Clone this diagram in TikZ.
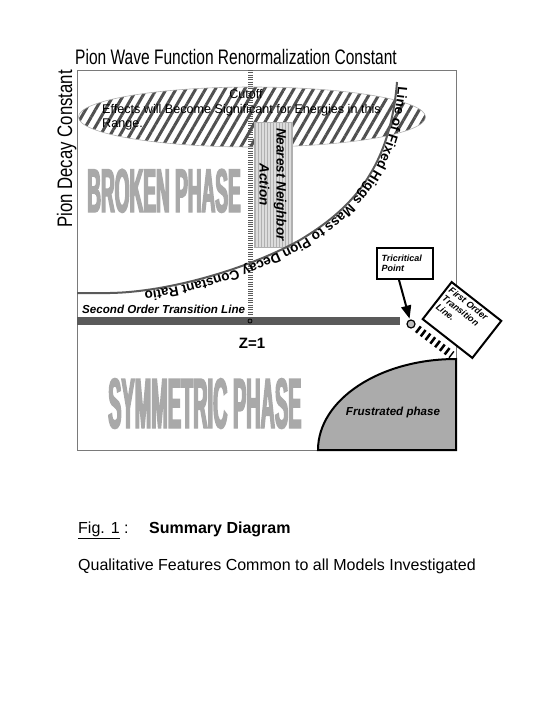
\documentclass[tikz,border=0pt]{standalone}
\usepackage{fontspec}
\setmainfont{Liberation Sans}
\newfontfamily\narrowfont[FakeStretch=0.74]{Liberation Sans}
\newfontfamily\brokenfont[FakeStretch=0.31]{Liberation Sans}
\newfontfamily\symmfont[FakeStretch=0.28]{Liberation Sans}
\newcommand\heavytext[1]{\special{pdf:literal direct 2 Tr 1.4 w 0.663 G}#1\special{pdf:literal direct 0 Tr 0 G}}
\usetikzlibrary{arrows.meta,shapes.geometric,patterns.meta,decorations.text}
\definecolor{cFrame}{HTML}{7A7A7A}
\definecolor{cPhase}{HTML}{A9A9A9}
\definecolor{cBar}{HTML}{5A5A5A}
\definecolor{cHatch}{HTML}{505050}
\definecolor{cLight}{HTML}{DCDCDC}
\definecolor{cEdge}{HTML}{B0B0B0}
\definecolor{cFrust}{HTML}{ABABAB}
\definecolor{cDot}{HTML}{BDBDBD}
\tikzset{
  axistitle/.style={
    font=\narrowfont\fontsize{21}{24}\selectfont, inner sep=0pt,
  },
  phaselabel/.style={
    text=cPhase, inner sep=0pt, anchor=base west,
  },
  plain/.style={
    font=\fontsize{12.6}{14}\selectfont, inner sep=0pt,
  },
  tag/.style={
    font=\bfseries\itshape\fontsize{11.6}{13}\selectfont, inner sep=0pt,
  },
  smalltag/.style={
    font=\bfseries\itshape\fontsize{9}{10.5}\selectfont, align=left,
  },
  callout/.style={
    draw, line width=2pt, fill=white,
  },
  caption/.style={
    font=\fontsize{16}{19}\selectfont, inner sep=0pt, anchor=base west,
  },
}

\begin{document}
\begin{tikzpicture}[x=1pt, y=-1pt, >=Stealth]
\useasboundingbox (0,0) rectangle (554,717);

% ═══════════════════════════════════════════════════════════════
%  AXES
% ═══════════════════════════════════════════════════════════════
\node[axistitle, anchor=base west] (xtitle) at (75,65)
  {Pion Wave Function Renormalization Constant};
\node[axistitle, anchor=base west, rotate=90, xscale=1.08] (ytitle) at (72,228)
  {Pion Decay Constant};
\draw[cFrame, line width=1pt] (77,70) rectangle (456,450);

% ── Z=1 line ──
\draw[cBar, line width=5pt, dash pattern=on 1pt off 1.3pt] (250,70) -- (250,316);

% ═══════════════════════════════════════════════════════════════
%  CUTOFF REGION
% ═══════════════════════════════════════════════════════════════
\node[ellipse, draw=cEdge, line width=0.6pt,
      minimum width=347pt, minimum height=60pt,
      pattern={Lines[angle=60, distance=8.5pt, line width=3pt]},
      pattern color=cHatch] (cutoff) at (252,117) {};
\node[plain, anchor=base] (cutofftxt) at (246,98) {Cutoff};
\node[plain, anchor=base west] (effects) at (102,113)
  {Effects will Become Significant for Energies in this};
\node[plain, anchor=base west] (range) at (102,127) {Range.};

% ── nearest neighbour action ──
\node[draw=cEdge, fill=cLight, line width=0.6pt,
      minimum width=38pt, minimum height=125pt, inner sep=0pt,
      postaction={pattern={Lines[angle=90, distance=3pt, line width=0.5pt]},
                  pattern color=cEdge}] (nnbox) at (273,184.5) {};
\node[rotate=-90, align=center, font=\bfseries\itshape\fontsize{13.5}{17}\selectfont]
  (nntext) at (nnbox) {Nearest Neighbor\\Action};

% ═══════════════════════════════════════════════════════════════
%  PHASES
% ═══════════════════════════════════════════════════════════════
\node[phaselabel, font=\brokenfont\bfseries\fontsize{61.5}{62}\selectfont]
  (broken) at (87,212) {\heavytext{BROKEN PHASE}};
\node[phaselabel, font=\symmfont\bfseries\fontsize{71}{72}\selectfont]
  (symmetric) at (108,428) {\heavytext{SYMMETRIC PHASE}};

% ── line of fixed ratio ──
\draw[cBar, line width=2pt,
      postaction={decorate, decoration={text along path, raise=1.5pt,
        text align={left indent=4pt},
        text={|\bfseries\fontsize{13.5}{14}\selectfont|Line of Fixed Higgs Mass to Pion Decay Constant Ratio}}}]
  (397,82) .. controls (390,170) and (350,210) .. (300,240)
           .. controls (250,268) and (170,292) .. (110,293) -- (77,293);

% ═══════════════════════════════════════════════════════════════
%  TRANSITION LINES
% ═══════════════════════════════════════════════════════════════
\draw[cBar, line width=8pt] (77,321) -- (400,321);
\node[circle, draw, fill=cBar, line width=0.8pt, inner sep=0pt, minimum size=4pt]
  (zdot) at (250,321) {};
\node[tag, anchor=base west] (second) at (82,313) {Second Order Transition Line};
\node[font=\bfseries\fontsize{15}{16}\selectfont, inner sep=0pt, anchor=base]
  (zone) at (252,348) {Z=1};

% ── frustrated phase ──
\draw[line width=2pt, fill=cFrust] (318,450) .. controls (318,399.7) and (379.8,359) .. (456,359)
  -- (456,450) -- cycle;
\node[tag, anchor=base] (frust) at (393,415) {Frustrated phase};

% ── tricritical point ──
\node[circle, draw, line width=1.2pt, fill=cDot, inner sep=0pt, minimum size=8pt]
  (tricrit) at (411,324) {};
\coordinate (fcorner) at (452,355);
\draw[line width=8pt, dash pattern=on 2.5pt off 3.5pt, shorten <=8pt]
  (tricrit.center) -- (fcorner);

\node[callout, smalltag, text width=46pt, inner xsep=5pt, minimum height=31pt]
  (tribox) at (404.5,263.5) {Tricritical\\Point};
\draw[line width=2pt, -{Triangle[width=10pt, length=13pt]}, shorten >=1pt]
  ([xshift=-5.5pt]tribox.south) -- (tricrit.105);

\node[callout, rotate=-38, minimum width=63pt, minimum height=47pt, inner sep=0pt]
  (fobox) at (462,320) {};
\node[smalltag, rotate=-38, anchor=north west, inner sep=4pt]
  (fotext) at (fobox.north west) {First Order\\Transition\\Line.};

% ═══════════════════════════════════════════════════════════════
%  CAPTION
% ═══════════════════════════════════════════════════════════════
\node[caption] (figno) at (78,533) {\underline{Fig. 1} :};
\node[caption, font=\bfseries\fontsize{16}{19}\selectfont] (figtitle) at (149,533)
  {Summary Diagram};
\node[caption] (figsub) at (78,570)
  {Qualitative Features Common to all Models Investigated};

\end{tikzpicture}
\end{document}
